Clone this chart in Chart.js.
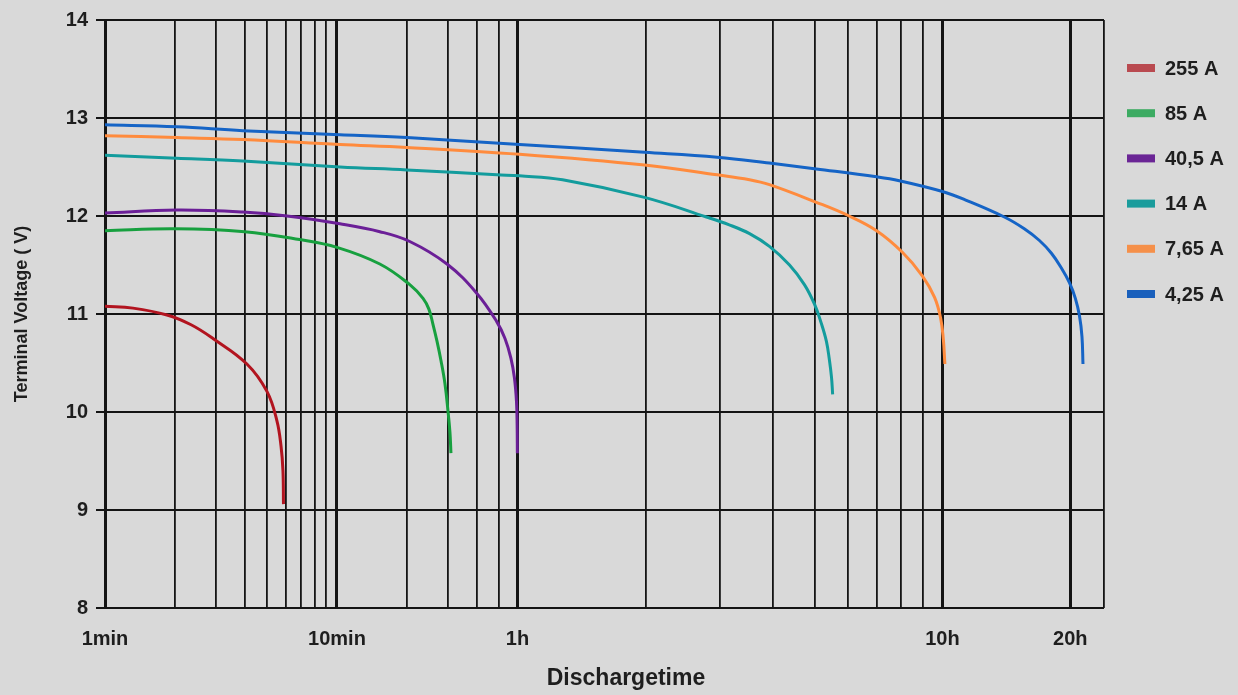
<!DOCTYPE html>
<html lang="en">
<head>
  <meta charset="UTF-8">
  <title>Discharge curves</title>
  <script src="https://cdn.jsdelivr.net/npm/chart.js"></script>
  <style>
    body {
      margin: 0;
      background: #d9d9d9;
      font-family: "Liberation Sans", Arial, sans-serif;
    }
    #wrap {
      position: relative;
      width: 1238px;
      height: 695px;
    }
  </style>
</head>
<body>
  <div id="wrap"><canvas id="dischargeChart"></canvas></div>

  <script>
    // series labels and colours
    const seriesLabels = ['255 A', '85 A', '40,5 A', '14 A', '7,65 A', '4,25 A'];
    const lineColors = ['#b2141f', '#17a03f', '#6b1f97', '#139c9d', '#ff8b3d', '#1564c6'];
    const legendColors = ['#b94a50', '#3cab62', '#6a2595', '#1a9c9c', '#f5904a', '#1a60bc'];

    // discharge time (minutes) and terminal voltage (V)
    const t255 = [1, 1.32, 1.85, 2.35, 2.92, 4.09, 4.99, 5.51, 5.74, 5.85, 5.88];
    const v255 = [11.08, 11.06, 10.99, 10.89, 10.75, 10.49, 10.21, 9.91, 9.65, 9.40, 9.06];

    const t85 = [1, 2.0, 4.0, 6.9, 10, 15.3, 20.6, 23.5, 24.9, 25.9, 27.0, 28.1, 29.2, 30.1, 30.7, 31.0];
    const v85 = [11.85, 11.87, 11.84, 11.76, 11.68, 11.51, 11.30, 11.16, 11.05, 10.90, 10.72, 10.52, 10.29, 10.01, 9.79, 9.58];

    const t40 = [1, 2.04, 3.93, 6.09, 10.3, 15.3, 20.6, 29.8, 40.1, 48.9, 53.0, 56.2, 58.2, 59.4, 59.8, 59.93];
    const v40 = [12.03, 12.06, 12.04, 12.00, 11.92, 11.84, 11.74, 11.51, 11.21, 10.92, 10.75, 10.55, 10.35, 10.11, 9.86, 9.58];

    const t14 = [1, 2.04, 3.93, 10.3, 20, 48.9, 60.65, 76.6, 119.4, 167, 189, 211, 235, 262, 284, 300, 311.5, 320, 325, 329, 331];
    const v14 = [12.62, 12.59, 12.56, 12.50, 12.47, 12.42, 12.41, 12.37, 12.19, 11.99, 11.91, 11.82, 11.69, 11.50, 11.30, 11.10, 10.90, 10.72, 10.54, 10.35, 10.18];

    const t765 = [1, 2.04, 3.93, 10.3, 20, 60.65, 119.4, 177, 211, 235, 303, 362, 420, 483, 538, 575, 594, 603, 608];
    const v765 = [12.82, 12.80, 12.78, 12.73, 12.70, 12.63, 12.52, 12.42, 12.37, 12.32, 12.14, 12.00, 11.85, 11.63, 11.39, 11.17, 10.96, 10.74, 10.49];

    const t425 = [1, 2.04, 3.93, 10.3, 20, 60.65, 119.4, 177, 235, 303, 420, 475, 600, 683, 839, 935, 1015, 1083, 1143, 1194, 1233, 1261, 1278, 1285];
    const v425 = [12.93, 12.91, 12.87, 12.83, 12.80, 12.73, 12.65, 12.60, 12.54, 12.48, 12.40, 12.36, 12.25, 12.16, 11.99, 11.87, 11.75, 11.62, 11.47, 11.32, 11.16, 10.98, 10.77, 10.49];

    const seriesTimes = [t255, t85, t40, t14, t765, t425];
    const seriesVolts = [v255, v85, v40, v14, v765, v425];

    // x grid (minutes) and which ones carry a label
    const gridMinutes = [1, 2, 3, 4, 5, 6, 7, 8, 9, 10, 20, 30, 40, 50, 60,
                         120, 180, 240, 300, 360, 420, 480, 540, 600, 1200, 1440];
    const tickLabels = { 1: '1min', 10: '10min', 60: '1h', 600: '10h', 1200: '20h' };
    const majorMinutes = [1, 10, 60, 600, 1200];

    // the original axis is log in minutes up to 1h, then a wider log decade for hours
    const HOUR_STRETCH = 425 / 232;
    function axisPos(min) {
      if (min <= 60) return Math.log10(min);
      return Math.log10(60) + HOUR_STRETCH * Math.log10(min / 60);
    }

    const datasets = seriesLabels.map((label, i) => ({
      label: label,
      data: seriesTimes[i].map((t, j) => ({ x: axisPos(t), y: seriesVolts[i][j] })),
      borderColor: lineColors[i],
      backgroundColor: legendColors[i],
      borderWidth: 3,
      pointRadius: 0,
      fill: false,
      tension: 0.4
    }));

    const FONT = '"Liberation Sans", Arial, sans-serif';

    // legend on the right, drawn on the canvas
    const sideLegend = {
      id: 'sideLegend',
      afterDraw(chart) {
        const ctx = chart.ctx;
        ctx.save();
        ctx.font = 'bold 20px ' + FONT;
        ctx.textBaseline = 'middle';
        chart.data.datasets.forEach((ds, i) => {
          const y = 68 + i * 45.2;
          ctx.fillStyle = ds.backgroundColor;
          ctx.fillRect(1127, y - 4, 28, 8);
          ctx.fillStyle = '#1e1e1e';
          ctx.fillText(ds.label, 1165, y + 1);
        });
        ctx.restore();
      }
    };

    // axis titles
    const axisTitles = {
      id: 'axisTitles',
      afterDraw(chart) {
        const ctx = chart.ctx;
        const area = chart.chartArea;
        ctx.save();
        ctx.fillStyle = '#1e1e1e';
        ctx.textAlign = 'center';
        ctx.textBaseline = 'middle';
        ctx.font = 'bold 23px ' + FONT;
        ctx.fillText('Dischargetime', 626, 679);
        ctx.translate(22, (area.top + area.bottom) / 2);
        ctx.rotate(-Math.PI / 2);
        ctx.font = 'bold 18px ' + FONT;
        ctx.fillText('Terminal Voltage ( V)', 0, 0);
        ctx.restore();
      }
    };

    const ctx = document.getElementById('dischargeChart').getContext('2d');
    new Chart(ctx, {
      type: 'line',
      data: { datasets: datasets },
      options: {
        responsive: true,
        maintainAspectRatio: false,
        animation: false,
        layout: { padding: { top: 17, right: 134, bottom: 0, left: 0 } },
        plugins: {
          legend: { display: false },
          tooltip: { enabled: false }
        },
        scales: {
          x: {
            type: 'linear',
            min: axisPos(1),
            max: axisPos(1440),
            afterBuildTicks(scale) {
              scale.ticks = gridMinutes.map(m => ({ value: axisPos(m) }));
            },
            afterFit(scale) { scale.height = 87; },
            border: { display: false },
            grid: {
              color: '#141414',
              drawTicks: false,
              lineWidth: c => majorMinutes.includes(gridMinutes[c.index]) ? 3 : 1.8
            },
            ticks: {
              autoSkip: false,
              maxRotation: 0,
              padding: 19,
              color: '#1e1e1e',
              font: { family: FONT, size: 20, weight: 'bold' },
              callback: (value, index) => tickLabels[gridMinutes[index]] || ''
            }
          },
          y: {
            min: 8,
            max: 14,
            afterFit(scale) { scale.width = 105; },
            border: { display: false },
            grid: {
              color: '#141414',
              lineWidth: 2,
              tickLength: 9
            },
            ticks: {
              stepSize: 1,
              padding: 8,
              color: '#1e1e1e',
              font: { family: FONT, size: 20, weight: 'bold' }
            }
          }
        }
      },
      plugins: [sideLegend, axisTitles]
    });
  </script>
</body>
</html>
